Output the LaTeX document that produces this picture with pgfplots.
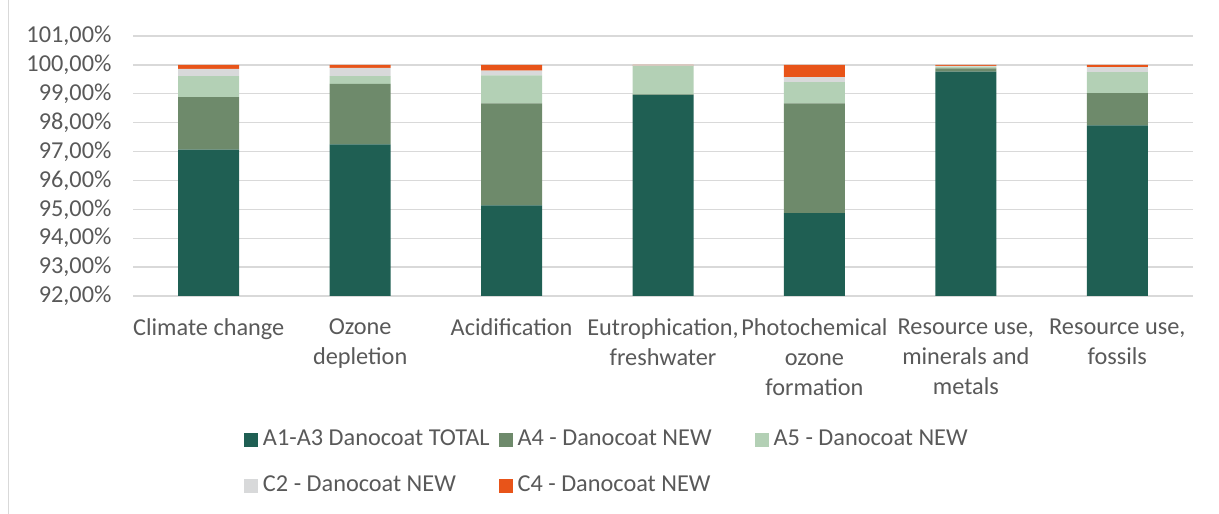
\documentclass[border=0pt]{standalone}
\usepackage{fontspec}
\setmainfont{Carlito}
\usepackage{pgfplots}
\pgfplotsset{compat=1.18}
\definecolor{cA}{HTML}{1F5F53}
\definecolor{cB}{HTML}{6E8A6B}
\definecolor{cC}{HTML}{B3D0B5}
\definecolor{cD}{HTML}{D8D9DA}
\definecolor{cE}{HTML}{E85419}
\definecolor{cGrid}{HTML}{D9D9D9}
\definecolor{cText}{HTML}{595959}
\begin{document}
\begin{tikzpicture}
\useasboundingbox (0pt,0pt) rectangle (1219pt,514pt);
\draw[draw=cGrid, line width=1pt] (8.5pt,0pt) -- (8.5pt,514pt);
\begin{axis}[
  at={(133pt,218pt)}, anchor=south west,
  scale only axis, width=1060pt, height=260pt,
  ybar stacked, bar width=61pt,
  xmin=-0.5, xmax=6.5, ymin=92, ymax=101,
  xtick={0,1,2,3,4,5,6},
  xticklabels={Climate change, Ozone\\depletion, Acidification, {Eutrophication,\\freshwater}, Photochemical\\ozone\\formation, {Resource use,\\minerals and\\metals}, {Resource use,\\fossils}},
  ytick={92,93,94,95,96,97,98,99,100,101},
  ymajorgrids, grid style={draw=cGrid, line width=1.3pt},
  axis line style={draw=none}, major tick length=0pt,
  tick label style={font=\fontsize{24.3}{30}\selectfont, text=cText},
  yticklabel={\pgfmathprintnumber[fixed,fixed zerofill,precision=2,use comma,assume math mode=true]{\tick}\%},
  yticklabel style={xshift=-18pt},
  xticklabel style={align=center, yshift=-19pt},
  legend columns=3,
  legend style={draw=none, fill=none, inner sep=0pt, outer sep=0pt,
    at={(0.1047,-0.6438)}, anchor=west,
    font=\fontsize{24.3}{30}\selectfont, text=cText,
    row sep=25pt,
    nodes={inner sep=0pt, text height=16pt, text depth=5pt},
    /tikz/column 1/.style={column sep=5pt},
    /tikz/column 2/.style={column sep=9pt},
    /tikz/column 3/.style={column sep=5pt},
    /tikz/column 4/.style={column sep=43pt},
    /tikz/column 5/.style={column sep=5pt}},
  legend cell align=left,
  legend image code/.code={\fill[#1] (0pt,-7pt) rectangle (14pt,7pt);},
]
\addplot[fill=cA, draw=none] coordinates {(0,97.07) (1,97.25) (2,95.14) (3,98.96) (4,94.87) (5,99.77) (6,97.91)};
\addplot[fill=cB, draw=none] coordinates {(0,1.81) (1,2.09) (2,3.53) (3,0.02) (4,3.80) (5,0.11) (6,1.11)};
\addplot[fill=cC, draw=none] coordinates {(0,0.73) (1,0.27) (2,0.97) (3,0.99) (4,0.73) (5,0.06) (6,0.73)};
\addplot[fill=cD, draw=none] coordinates {(0,0.25) (1,0.29) (2,0.16) (3,0.01) (4,0.18) (5,0.03) (6,0.17)};
\addplot[fill=cE, draw=none] coordinates {(0,0.14) (1,0.10) (2,0.20) (3,0.02) (4,0.42) (5,0.03) (6,0.08)};
\legend{A1-A3 Danocoat TOTAL, A4 - Danocoat NEW, A5 - Danocoat NEW, C2 - Danocoat NEW, C4 - Danocoat NEW}
\end{axis}
\end{tikzpicture}
\end{document}
